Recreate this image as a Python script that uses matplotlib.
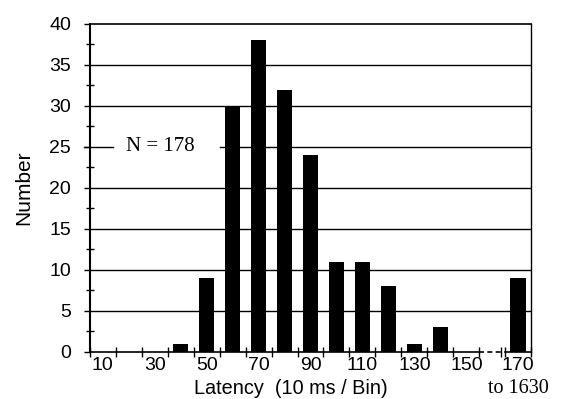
import matplotlib
matplotlib.use('Agg')
import matplotlib.pyplot as plt
import numpy as np

plt.rcParams['font.family'] = 'Liberation Sans'

# histogram of latencies, 10 ms bins (last bin collects 170 to 1630)
bin_centers = [40, 50, 60, 70, 80, 90, 100, 110, 120, 130, 140, 170]
counts = [1, 9, 30, 38, 32, 24, 11, 11, 8, 1, 3, 9]
label_positions = [10, 30, 50, 70, 90, 110, 130, 150, 170]
bin_edges = [5, 15, 25, 35, 45, 55, 65, 75, 85, 95, 105, 115, 125, 135, 145, 155, 163.5, 165, 175]
y_major = [0, 5, 10, 15, 20, 25, 30, 35, 40]
y_minor = [2.5, 7.5, 12.5, 17.5, 22.5, 27.5, 32.5, 37.5]
full_grid = [5, 10, 15, 20, 30, 35]

fig = plt.figure(figsize=(5.61, 3.99), dpi=100)
ax = fig.add_axes([0.160, 0.118, 0.787, 0.822])

ax.bar(bin_centers, counts, width=6, color='black', zorder=3)

for y in full_grid:
    ax.axhline(y, color='black', lw=1.0, zorder=1)
# the 25 line is interrupted by the annotation
ax.plot([55, 175], [25, 25], color='black', lw=1.0, zorder=1)
ax.plot([2.7, 14], [25, 25], color='black', lw=1.0, clip_on=False, zorder=1)

ax.set_xlim(5, 175)
ax.set_ylim(0, 40)

ax.spines['bottom'].set_visible(False)
ax.spines['left'].set_linewidth(1.5)
ax.spines['top'].set_linewidth(1.2)
ax.spines['right'].set_linewidth(1.0)

# x axis line with a dashed break before the last bin
ax.plot([5, 155], [0, 0], color='black', lw=1.2, clip_on=False, zorder=2)
ax.plot([155, 163.5], [0, 0], color='black', lw=1.2, ls=(0, (3, 2)), clip_on=False, zorder=2)
ax.plot([165, 175], [0, 0], color='black', lw=1.2, clip_on=False, zorder=2)

ax.set_xticks(bin_edges)
ax.set_xticklabels([])
ax.tick_params(axis='x', which='major', direction='inout', length=7, width=1.0)
ax.set_xticks(label_positions, minor=True)
ax.set_xticklabels([str(v) for v in label_positions], minor=True)
ax.tick_params(axis='x', which='minor', length=0, pad=3.5, labelsize=14)

ax.set_yticks(y_major)
ax.set_yticks(y_minor, minor=True)
ax.tick_params(axis='y', which='major', direction='out', length=4.5, width=1.0, pad=9, labelsize=14)
ax.tick_params(axis='y', which='minor', direction='inout', length=6, width=1.0)

ax.set_ylabel('Number', fontsize=15)
ax.yaxis.set_label_coords(-0.127, 0.5)

fig.text(291 / 561, 1 - 394 / 399, 'Latency  (10 ms / Bin)', fontsize=14.3, ha='center', va='baseline')
fig.text(518 / 561, 1 - 393 / 399, 'to 1630', fontsize=14.5, family='Liberation Serif',
         ha='center', va='baseline')

ax.text(19, 25, 'N = 178', fontsize=15, family='Liberation Serif', va='center', ha='left')

fig.savefig('out.png', dpi=100)
